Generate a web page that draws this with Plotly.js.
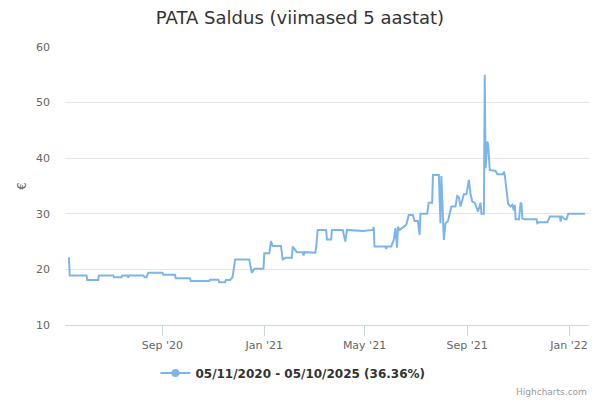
<!DOCTYPE html>
<html>
<head>
<meta charset="utf-8">
<script src="https://cdn.plot.ly/plotly-3.0.1.min.js"></script>
<style>html,body{margin:0;padding:0;background:#fff;}#chart{width:600px;height:400px;}</style>
</head>
<body>
<div id="chart"></div>
<script>
const dates = [
"2020-05-11","2020-05-12","2020-05-13","2020-06-02","2020-06-03","2020-06-16","2020-06-17","2020-07-04","2020-07-05","2020-07-14",
"2020-07-15","2020-07-21","2020-07-22","2020-07-23","2020-08-09","2020-08-11","2020-08-13","2020-08-15","2020-09-01","2020-09-02",
"2020-09-16","2020-09-17","2020-10-04","2020-10-05","2020-10-27","2020-10-28","2020-11-07","2020-11-08","2020-11-15","2020-11-16",
"2020-11-21","2020-11-24","2020-11-27","2020-12-14","2020-12-17","2020-12-20","2020-12-31","2021-01-01","2021-01-07","2021-01-09",
"2021-01-11","2021-01-21","2021-01-23","2021-01-27","2021-02-03","2021-02-04","2021-02-09","2021-02-16","2021-02-17","2021-02-18",
"2021-03-03","2021-03-04","2021-03-06","2021-03-16","2021-03-17","2021-03-22","2021-03-23","2021-04-05","2021-04-08","2021-04-10",
"2021-04-29","2021-05-11","2021-05-12","2021-05-13","2021-05-26","2021-05-27","2021-05-28","2021-06-02","2021-06-05","2021-06-07",
"2021-06-09","2021-06-10","2021-06-12","2021-06-17","2021-06-20","2021-06-23","2021-06-28","2021-06-30","2021-07-04","2021-07-06",
"2021-07-07","2021-07-15","2021-07-17","2021-07-21","2021-07-22","2021-07-29","2021-07-31","2021-08-01","2021-08-04","2021-08-06",
"2021-08-09","2021-08-13","2021-08-18","2021-08-20","2021-08-22","2021-08-24","2021-08-28","2021-08-31","2021-09-03","2021-09-05",
"2021-09-07","2021-09-10","2021-09-12","2021-09-14","2021-09-17","2021-09-18","2021-09-21","2021-09-22","2021-09-23","2021-09-25",
"2021-09-26","2021-09-28","2021-10-05","2021-10-07","2021-10-14","2021-10-15","2021-10-16","2021-10-20","2021-10-23","2021-10-25",
"2021-10-27","2021-10-28","2021-10-29","2021-11-02","2021-11-04","2021-11-05","2021-11-06","2021-11-09","2021-11-23","2021-11-24",
"2021-11-26","2021-12-06","2021-12-09","2021-12-21","2021-12-22","2021-12-23","2021-12-27","2021-12-29","2021-12-31","2022-01-20"
];
const prices = [
22.0,22.0,18.9,18.9,18.1,18.1,18.9,18.9,18.6,18.6,
18.9,18.9,18.5,18.9,18.9,18.6,18.6,19.4,19.4,19.05,
19.05,18.4,18.4,17.9,17.9,18.15,18.15,17.7,17.7,18.1,
18.1,18.6,21.8,21.8,19.4,20.1,20.1,22.9,22.9,25.1,
24.2,24.2,21.8,22.1,22.1,24.1,23.1,23.1,22.5,23.1,
23.0,23.9,27.1,27.1,25.4,25.4,27.1,27.1,25.0,27.1,
26.9,27.1,27.6,24.1,24.1,23.7,24.1,24.1,25.3,27.4,
23.9,27.7,27.1,27.7,28.0,29.8,29.8,28.7,28.7,26.2,
30.0,30.0,32.0,32.0,37.0,37.0,28.3,36.8,25.3,28.3,
28.7,31.3,31.3,33.2,33.0,31.3,33.5,33.5,36.1,33.5,
32.2,32.0,31.3,30.4,32.0,30.0,30.0,55.0,38.2,43.0,
42.5,37.9,37.7,37.1,37.1,37.6,37.0,31.8,31.3,31.6,
30.6,31.6,29.0,29.0,32.0,31.8,29.2,29.0,29.0,28.3,
28.5,28.5,29.5,29.5,28.6,29.6,29.0,29.0,30.0,30.0
];
const seriesName = "05/11/2020 - 05/10/2025 (36.36%)";
const tickDates = ["2020-09-01","2021-01-01","2021-05-01","2021-09-01","2022-01-01"];
const tickLabels = ["Sep '20","Jan '21","May '21","Sep '21","Jan '22"];
const yTicks = [10,20,30,40,50,60];

const font = "DejaVu Sans, Arial, sans-serif";
const traces = [
  {x: dates, y: prices, type: 'scatter', mode: 'lines', line: {color: '#7cb5ec', width: 2}, showlegend: false, hoverinfo: 'x+y'},
  {x: [null], y: [null], type: 'scatter', mode: 'lines+markers', name: seriesName,
   line: {color: '#7cb5ec', width: 2}, marker: {color: '#7cb5ec', size: 8}, showlegend: true}
];
const layout = {
  width: 600, height: 400,
  margin: {l: 65, r: 11, t: 47, b: 75},
  paper_bgcolor: '#fff', plot_bgcolor: '#fff',
  font: {family: font, color: '#666', size: 11},
  title: {text: 'PATA Saldus (viimased 5 aastat)', font: {family: font, size: 18, color: '#333'}, x: 0.5, xanchor: 'center', y: 0.955, yanchor: 'middle'},
  xaxis: {
    type: 'date', range: ['2020-05-07 07:00', '2022-01-24 21:00'],
    tickvals: tickDates, ticktext: tickLabels,
    showgrid: false, zeroline: false,
    showline: true, linecolor: '#ccd6eb', linewidth: 1,
    ticks: 'outside', ticklen: 10, tickcolor: '#ccd6eb', tickwidth: 1,
    tickfont: {family: font, size: 11, color: '#666'}
  },
  yaxis: {
    range: [10, 60], tickvals: yTicks,
    showgrid: true, gridcolor: '#e6e6e6', gridwidth: 1, zeroline: false,
    showline: false, ticks: '', ticklabelstandoff: 14,
    tickfont: {family: font, size: 11, color: '#666'},
    title: {text: '€', font: {family: font, size: 12, color: '#666'}, standoff: 6}
  },
  legend: {orientation: 'h', x: 0.435, xanchor: 'center', y: -0.173, yanchor: 'middle',
           font: {family: font, size: 12, color: '#333', weight: 'bold'}, bgcolor: 'rgba(0,0,0,0)'},
  annotations: [{text: 'Highcharts.com', xref: 'paper', yref: 'paper', x: 1, xanchor: 'right', y: -0.242, yanchor: 'middle',
                 showarrow: false, font: {family: font, size: 9, color: '#999'}}],
  hovermode: 'closest'
};
Plotly.newPlot('chart', traces, layout, {displayModeBar: false, staticPlot: true});
</script>
</body>
</html>
